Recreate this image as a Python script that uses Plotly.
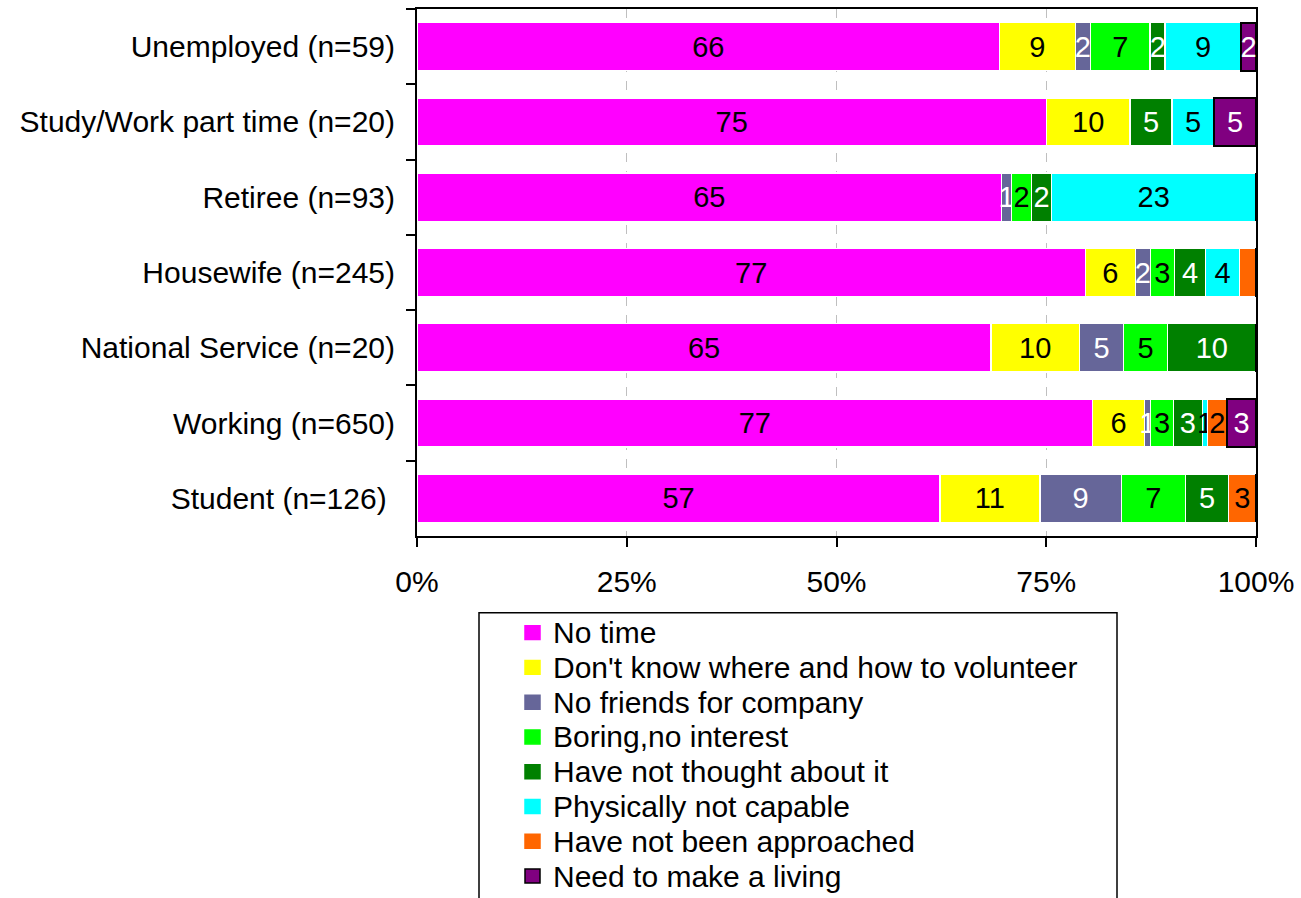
import plotly.graph_objects as go

# Respondent groups, listed top to bottom
groups = [
    "Unemployed (n=59)",
    "Study/Work part time (n=20)",
    "Retiree (n=93)",
    "Housewife (n=245)",
    "National Service (n=20)",
    "Working (n=650)",
    "Student (n=126)\u00a0",
]

# Reasons for not volunteering (% of each group)
no_time          = [66.1, 75.0, 64.6, 77.1, 65.0, 76.9, 57.1]
dont_know_how    = [8.6, 10.0, 0.0, 5.8, 10.0, 5.9, 10.9]
no_friends       = [1.7, 0.0, 1.1, 1.7, 5.0, 0.7, 8.9]
boring           = [6.8, 0.0, 2.2, 2.8, 5.0, 2.6, 7.0]
not_thought      = [1.7, 5.0, 2.2, 3.6, 10.0, 3.3, 4.7]
not_capable      = [8.6, 5.0, 22.6, 3.9, 0.0, 0.6, 0.0]
not_approached   = [0.0, 0.0, 0.0, 1.9, 0.0, 2.2, 3.0]
need_living      = [1.7, 5.0, 0.0, 0.0, 0.0, 3.3, 0.0]

# x-axis ticks (share of each bar)
x_ticks = [0, 25, 50, 75, 100]
x_tick_labels = ["0%", "25%", "50%", "75%", "100%"]

series = [
    ("No time", no_time, "#FF00FF", "black"),
    ("Don't know where and how to volunteer", dont_know_how, "#FFFF00", "black"),
    ("No friends for company", no_friends, "#666699", "white"),
    ("Boring,no interest", boring, "#00FF00", "black"),
    ("Have not thought about it", not_thought, "#008000", "white"),
    ("Physically not capable", not_capable, "#00FFFF", "black"),
    ("Have not been approached", not_approached, "#FF6600", "black"),
    ("Need to make a living", need_living, "#800080", "white"),
]

# segments whose value label is left off
unlabelled = {("Have not been approached", "Housewife (n=245)")}

FONT = "Arial, Liberation Sans, sans-serif"
W, H = 1301, 898
ML, MR, MT, MB = 417, 45, 7, 362
PW, PH = W - ML - MR, H - MT - MB


def paper_x(px):
    return (px - ML) / PW


def paper_y(py):
    return (H - MB - py) / PH


fig = go.Figure()
for name, vals, color, txtcol in series:
    labels = [
        "" if v == 0 or (name, g) in unlabelled else f"{v:.0f}"
        for v, g in zip(vals, groups)
    ]
    edge = "black" if name == "Need to make a living" else "white"
    fig.add_trace(go.Bar(
        y=groups, x=vals, name=name, orientation="h",
        marker=dict(color=color, line=dict(color=edge, width=1.5 if edge == "white" else 2)),
        text=labels, textposition="inside", insidetextanchor="middle",
        textangle=0, constraintext="none",
        textfont=dict(family=FONT, size=29, color=txtcol),
        showlegend=False,
    ))

# legend box below the plot
LEG_L, LEG_R, LEG_T = 479, 1117, 613
ROW0, ROW_H = 633, 34.9
fig.add_shape(type="rect", xref="paper", yref="paper",
              x0=paper_x(LEG_L), x1=paper_x(LEG_R),
              y0=paper_y(LEG_T), y1=paper_y(H + 20),
              line=dict(color="black", width=1.5), fillcolor="white", layer="below")
for i, (name, vals, color, txtcol) in enumerate(series):
    cy = ROW0 + i * ROW_H
    edge = "black" if name == "Need to make a living" else color
    fig.add_shape(type="rect", xref="paper", yref="paper",
                  x0=paper_x(525), x1=paper_x(540),
                  y0=paper_y(cy - 7), y1=paper_y(cy + 7),
                  line=dict(color=edge, width=1.5), fillcolor=color)
    fig.add_annotation(xref="paper", yref="paper", x=paper_x(551), y=paper_y(cy),
                       xanchor="left", yanchor="middle", showarrow=False,
                       text=name, font=dict(family=FONT, size=30, color="black"))

fig.update_layout(
    barmode="stack", barnorm="percent", bargap=0.36,
    width=W, height=H,
    margin=dict(l=ML, r=MR, t=MT, b=MB, pad=0),
    paper_bgcolor="white", plot_bgcolor="white",
    font=dict(family=FONT, size=29, color="black"),
    uniformtext=dict(minsize=29, mode="show"),
)
fig.update_xaxes(
    range=[0, 100], tickmode="array", tickvals=x_ticks, ticktext=x_tick_labels,
    showgrid=True, gridcolor="#BFBFBF", griddash="dash", gridwidth=1,
    showline=True, linecolor="black", linewidth=2, mirror=True,
    ticks="outside", ticklen=9, tickwidth=2, tickcolor="black",
    ticklabelstandoff=9, zeroline=False,
    tickfont=dict(family=FONT, size=30, color="black"),
)
fig.update_yaxes(
    type="category", autorange="reversed",
    showgrid=False, showline=True, linecolor="black", linewidth=2, mirror=True,
    ticks="outside", tickson="boundaries", ticklen=9, tickwidth=2, tickcolor="black",
    ticklabelstandoff=14,
    tickfont=dict(family=FONT, size=30, color="black"),
)

fig.write_html("out.html")
